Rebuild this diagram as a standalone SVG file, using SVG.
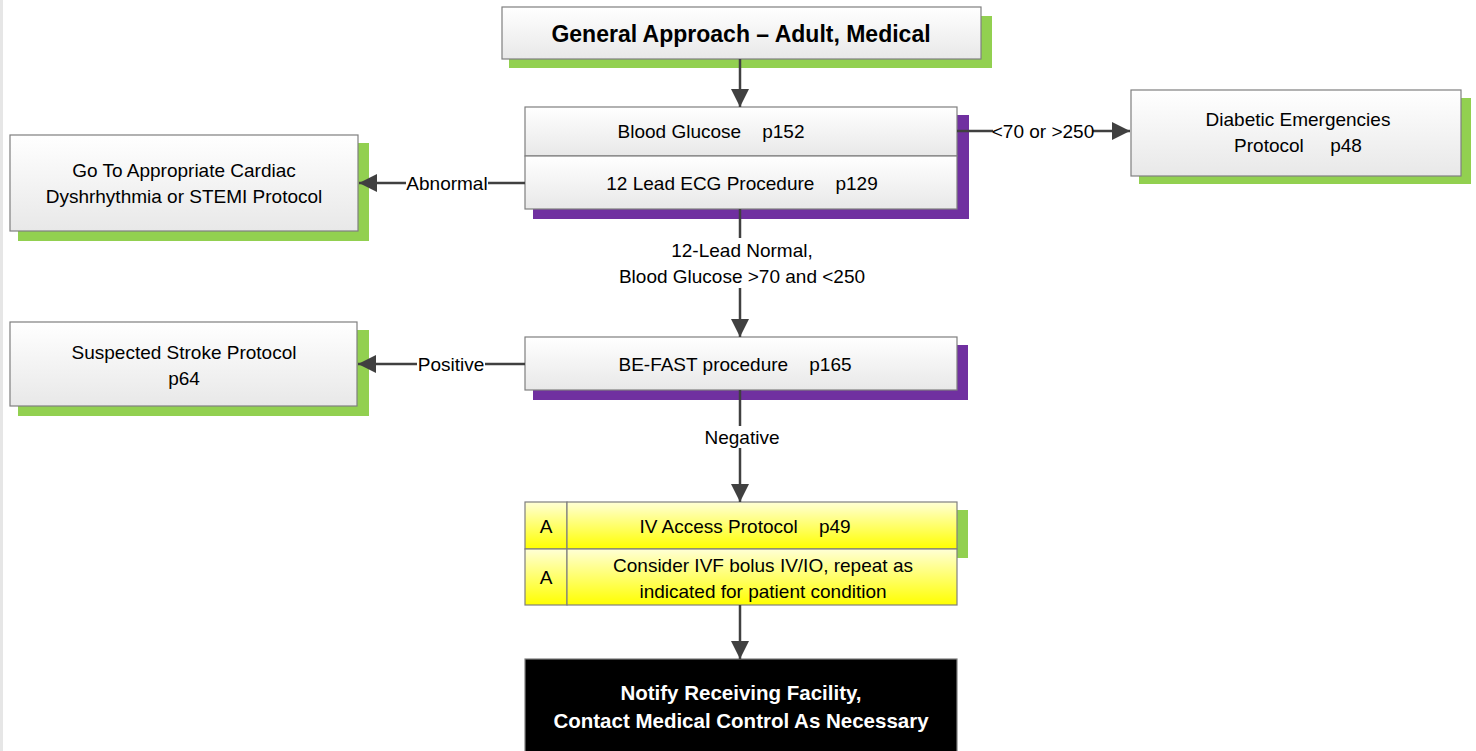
<svg xmlns="http://www.w3.org/2000/svg" width="1476" height="751" viewBox="0 0 1476 751">
<defs>
<linearGradient id="gw" x1="0" y1="0" x2="0" y2="1"><stop offset="0" stop-color="#ffffff"/><stop offset="1" stop-color="#e8e8e8"/></linearGradient>
<linearGradient id="gy" x1="0" y1="0" x2="0" y2="1"><stop offset="0" stop-color="#ffffd6"/><stop offset="1" stop-color="#ffff00"/></linearGradient>
<marker id="ah" viewBox="0 0 18 18" refX="18" refY="9" markerWidth="18" markerHeight="18" markerUnits="userSpaceOnUse" orient="auto"><path d="M0,0 L18,9 L0,18 Z" fill="#404040"/></marker>
<style>
.box{fill:url(#gw);stroke:#7f7f7f;stroke-width:1.2}
.yb{fill:url(#gy);stroke:#7f7f7f;stroke-width:1.2}
.gs{fill:#92d050}
.ps{fill:#7030a0}
.t{font-family:"Liberation Sans",Arial,sans-serif;font-size:19px;fill:#000;text-anchor:middle}
.tb{font-family:"Liberation Sans",Arial,sans-serif;font-weight:bold;text-anchor:middle}
.ln{stroke:#404040;stroke-width:2.5;fill:none}
.lbg{fill:#ffffff}
</style>
</defs>
<rect x="0" y="0" width="1476" height="751" fill="#ffffff"/>
<rect x="0" y="0" width="3" height="751" fill="#e6e6e6"/>

<g id="general-approach">
<rect class="gs" x="509" y="16" width="483" height="52"/>
<rect class="box" x="502" y="7" width="479" height="52"/>
<text class="tb" x="741" y="42" font-size="23">General Approach – Adult, Medical</text>
</g>

<g id="glucose-ecg">
<rect class="ps" x="533" y="115" width="436" height="104"/>
<rect class="box" x="525" y="107" width="432" height="49"/>
<rect class="box" x="525" y="156" width="432" height="53"/>
<text class="t" x="711" y="138" xml:space="preserve">Blood Glucose    p152</text>
<text class="t" x="742" y="190" xml:space="preserve">12 Lead ECG Procedure    p129</text>
</g>

<g id="cardiac">
<rect class="gs" x="18" y="143" width="351" height="98"/>
<rect class="box" x="10" y="135" width="348" height="96"/>
<text class="t" x="184" y="177">Go To Appropriate Cardiac</text>
<text class="t" x="184" y="203">Dyshrhythmia or STEMI Protocol</text>
</g>

<g id="diabetic">
<rect class="gs" x="1139" y="98" width="332" height="86"/>
<rect class="box" x="1131" y="90" width="330" height="86"/>
<text class="t" x="1298" y="126">Diabetic Emergencies</text>
<text class="t" x="1298" y="152" xml:space="preserve">Protocol     p48</text>
</g>

<g id="stroke">
<rect class="gs" x="18" y="330" width="351" height="86"/>
<rect class="box" x="10" y="322" width="347" height="84"/>
<text class="t" x="184" y="359">Suspected Stroke Protocol</text>
<text class="t" x="184" y="385">p64</text>
</g>

<g id="befast">
<rect class="ps" x="533" y="345" width="435" height="55"/>
<rect class="box" x="525" y="337" width="432" height="53"/>
<text class="t" x="735" y="371" xml:space="preserve">BE-FAST procedure    p165</text>
</g>

<g id="iv">
<rect class="gs" x="533" y="510" width="435" height="48"/>
<rect class="yb" x="525" y="502" width="42" height="47"/>
<rect class="yb" x="567" y="502" width="390" height="47"/>
<rect class="yb" x="525" y="549" width="42" height="56"/>
<rect class="yb" x="567" y="549" width="390" height="56"/>
<text class="t" x="546" y="533">A</text>
<text class="t" x="546" y="584">A</text>
<text class="t" x="745" y="533" xml:space="preserve">IV Access Protocol    p49</text>
<text class="t" x="763" y="572">Consider IVF bolus IV/IO, repeat as</text>
<text class="t" x="763" y="598">indicated for patient condition</text>
</g>

<g id="notify">
<rect x="525" y="659" width="432" height="100" fill="#000000" stroke="#7f7f7f" stroke-width="1.2"/>
<text class="tb" x="741" y="700" font-size="20.5" fill="#ffffff">Notify Receiving Facility,</text>
<text class="tb" x="741" y="728" font-size="20.5" fill="#ffffff">Contact Medical Control As Necessary</text>
</g>

<g id="connectors">
<line class="ln" x1="740" y1="59" x2="740" y2="107" marker-end="url(#ah)"/>
<line class="ln" x1="957" y1="131" x2="1130" y2="131" marker-end="url(#ah)"/>
<rect class="lbg" x="993" y="120" width="100" height="22"/>
<text class="t" x="1043" y="138">&lt;70 or &gt;250</text>
<line class="ln" x1="525" y1="183" x2="359" y2="183" marker-end="url(#ah)"/>
<rect class="lbg" x="406" y="172" width="82" height="22"/>
<text class="t" x="447" y="190">Abnormal</text>
<line class="ln" x1="740" y1="209" x2="740" y2="337" marker-end="url(#ah)"/>
<rect class="lbg" x="612" y="238" width="260" height="50"/>
<text class="t" x="742" y="257">12-Lead Normal,</text>
<text class="t" x="742" y="283">Blood Glucose &gt;70 and &lt;250</text>
<line class="ln" x1="525" y1="364" x2="358" y2="364" marker-end="url(#ah)"/>
<rect class="lbg" x="417" y="353" width="68" height="22"/>
<text class="t" x="451" y="371">Positive</text>
<line class="ln" x1="740" y1="390" x2="740" y2="502" marker-end="url(#ah)"/>
<rect class="lbg" x="700" y="426" width="84" height="22"/>
<text class="t" x="742" y="444">Negative</text>
<line class="ln" x1="740" y1="605" x2="740" y2="659" marker-end="url(#ah)"/>
</g>
</svg>
